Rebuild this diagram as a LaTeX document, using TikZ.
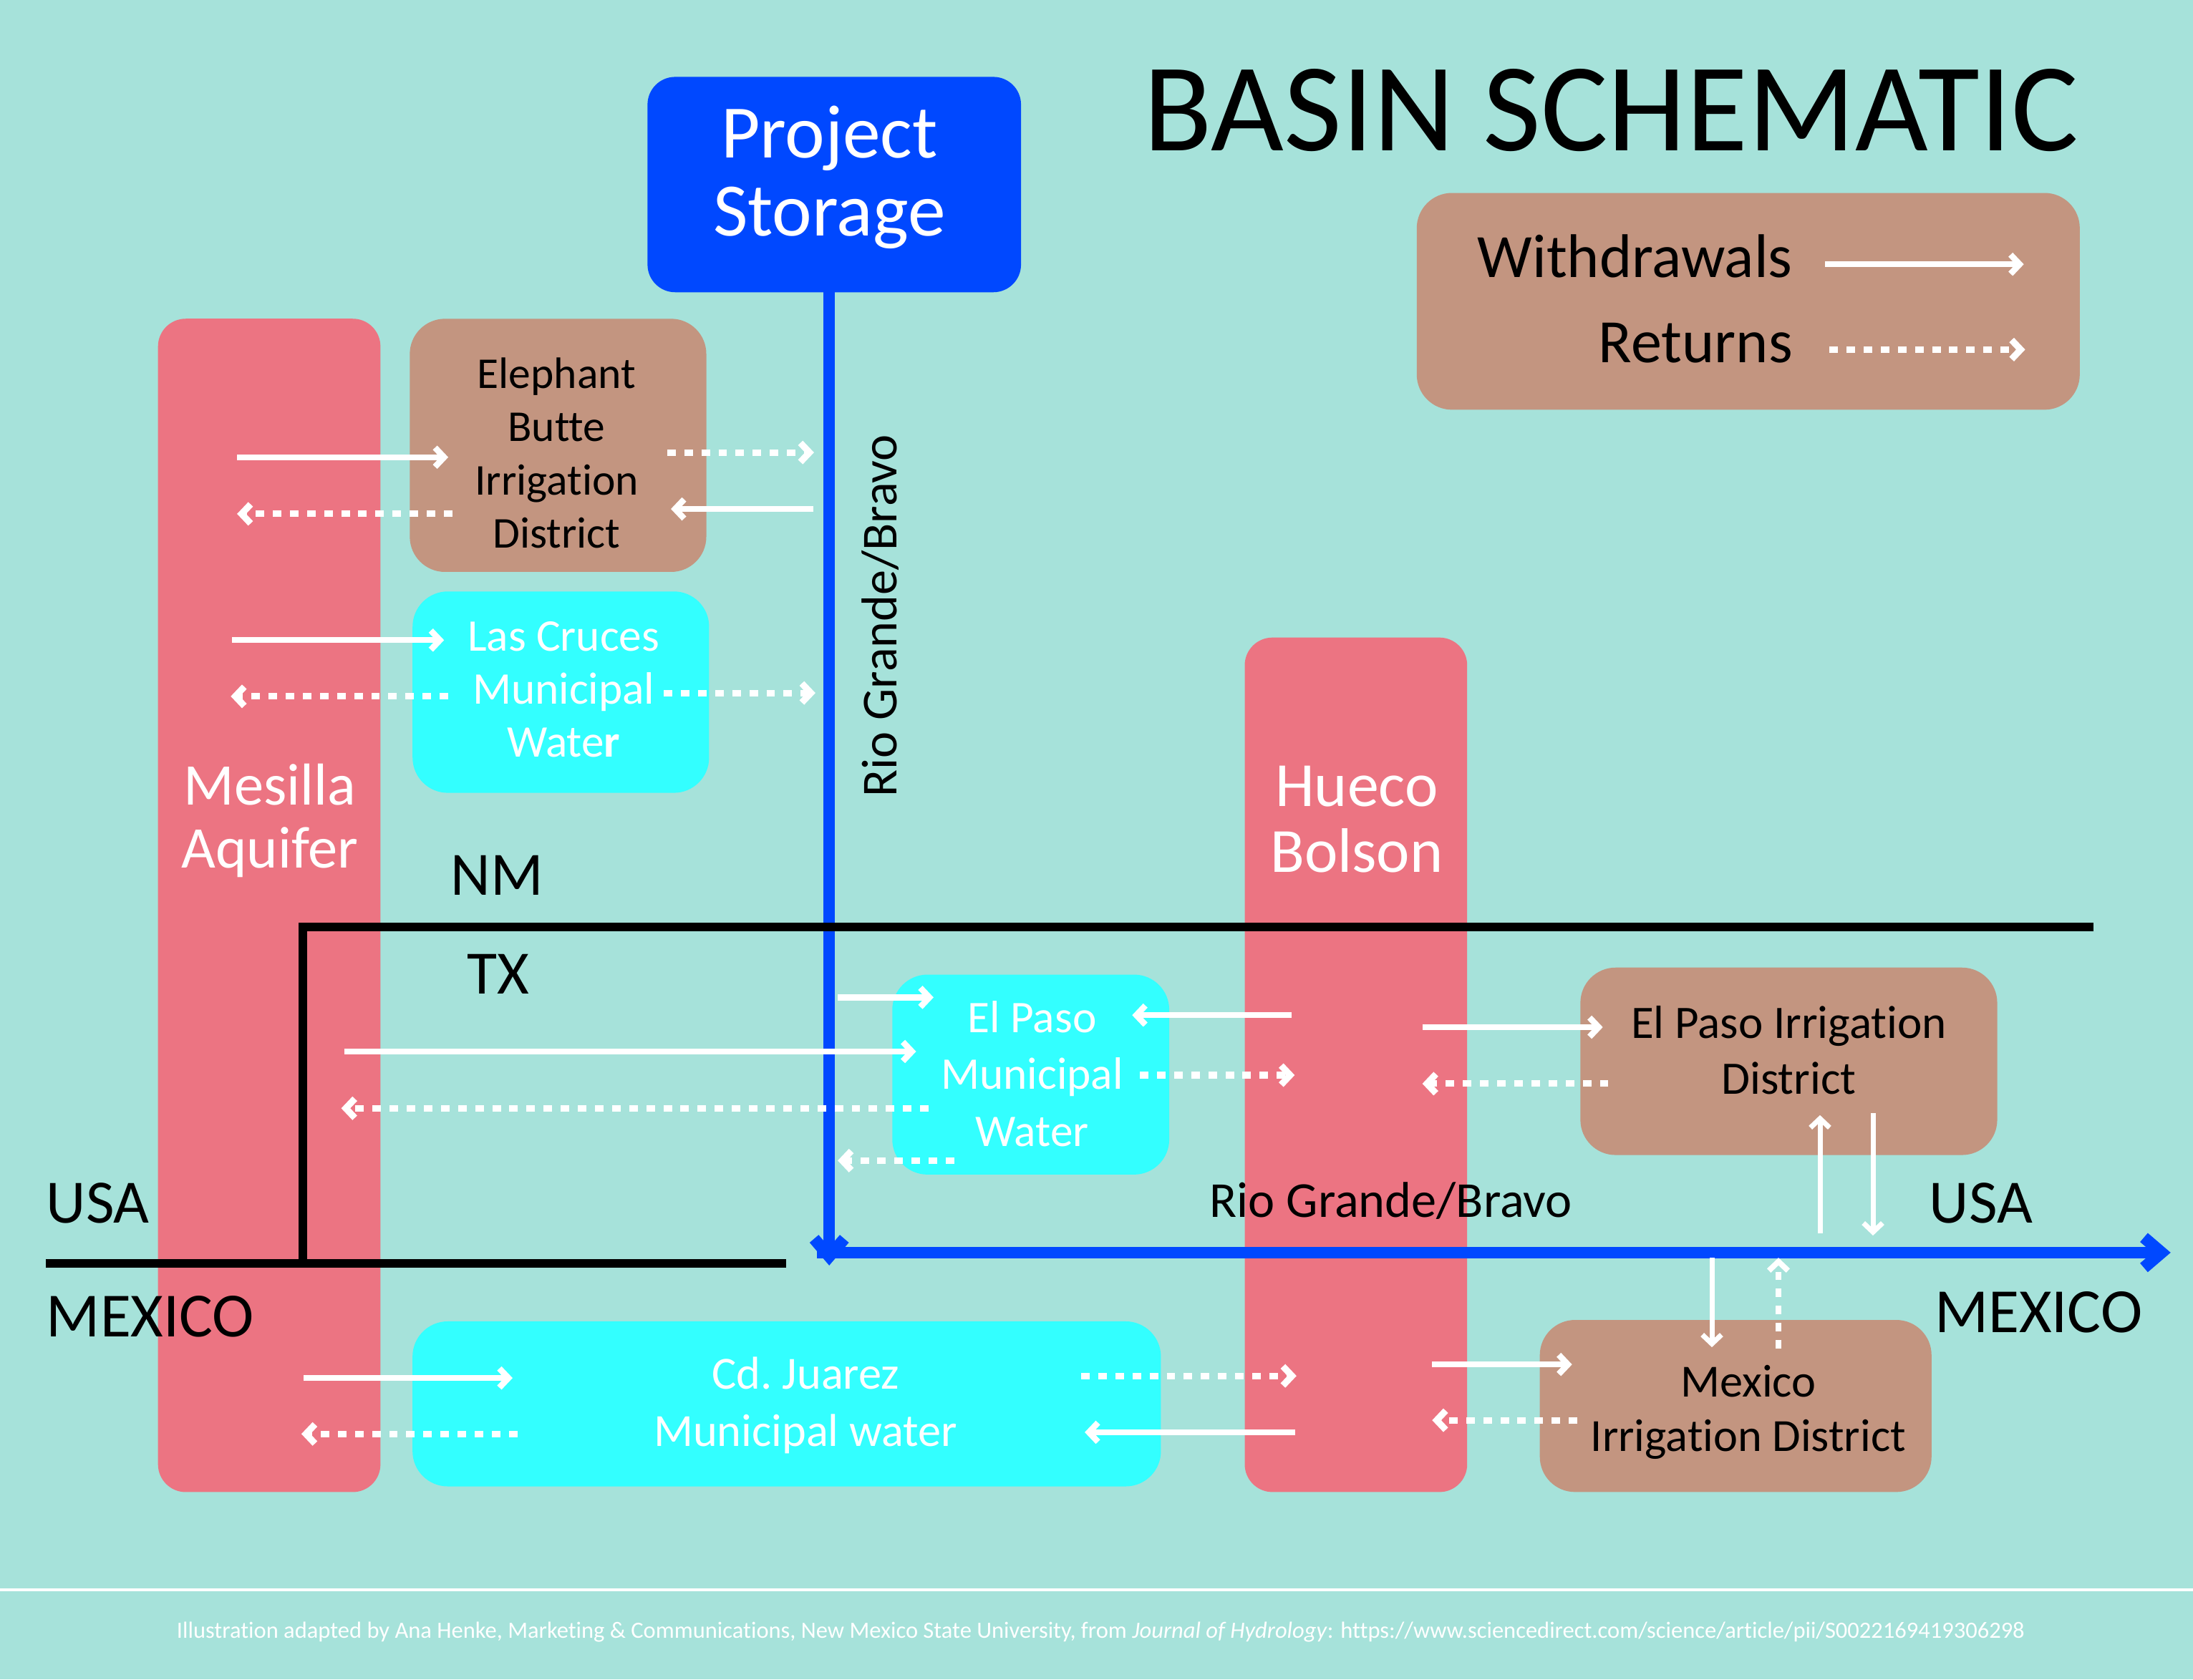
\documentclass[tikz,border=0pt]{standalone}
\usepackage{fontspec}
\setmainfont{Carlito}[Ligatures=NoCommon]
\usetikzlibrary{arrows.meta}
\definecolor{bgc}{RGB}{166,226,218}
\definecolor{pinkc}{RGB}{236,116,130}
\definecolor{brownc}{RGB}{195,149,128}
\definecolor{cyanc}{RGB}{51,255,255}
\definecolor{bluec}{RGB}{0,72,255}
\tikzset{
  boxbase/.style={draw=none, inner sep=0pt, outer sep=0pt, rectangle},
  pillar/.style={boxbase, fill=pinkc, rounded corners=11pt},
  brownbox/.style={boxbase, fill=brownc, rounded corners=14pt},
  cyanbox/.style={boxbase, fill=cyanc, rounded corners=14pt},
  storebox/.style={boxbase, fill=bluec, rounded corners=11pt},
  wtxt/.style={text=white, align=center, inner sep=0pt},
  btxt/.style={text=black, align=center, inner sep=0pt},
  wd/.style={draw=white, line width=2.4pt, -{Straight Barb[length=3.6pt,width=7.6pt]}},
  rt/.style={wd, line width=2.6pt, dash pattern=on 3.4pt off 3.4pt},
  river/.style={draw=bluec, line width=4.7pt, -{Straight Barb[length=7pt,width=12pt]}},
  border/.style={draw=black, line width=3.5pt},
}
\begin{document}
\begin{tikzpicture}[x=0.019534cm, y=-0.019534cm]
\path[fill=bgc, use as bounding box] (0,0) rectangle (1568,1201);

% title
\node[btxt, anchor=base, font=\fontsize{50}{52}\selectfont] (title) at (1152,108) {BASIN SCHEMATIC};

% legend
\node[brownbox, minimum width=9.259cm, minimum height=3.028cm] (legend) at (1250,215.5) {};
\node[btxt, anchor=base east, font=\fontsize{24.5}{26}\selectfont] (lgw) at (1282,198.6) {Withdrawals};
\node[btxt, anchor=base east, font=\fontsize{24.5}{26}\selectfont] (lgr) at (1282,259.5) {Returns};

% pillars and boxes
\node[pillar, minimum width=3.106cm, minimum height=16.389cm] (mesilla) at (192.5,647.5) {};
\node[pillar, minimum width=3.106cm, minimum height=11.935cm] (hueco) at (969.5,761.5) {};
\node[brownbox, minimum width=4.141cm, minimum height=3.536cm] (ebid) at (399,318.5) {};
\node[cyanbox, minimum width=4.141cm, minimum height=2.813cm] (lcmw) at (401,495) {};
\node[cyanbox, minimum width=3.868cm, minimum height=2.793cm] (epmw) at (737,768.5) {};
\node[brownbox, minimum width=5.821cm, minimum height=2.618cm] (epid) at (1279,759) {};
\node[brownbox, minimum width=5.470cm, minimum height=2.403cm] (mxid) at (1241,1005.5) {};
\node[cyanbox, minimum width=10.451cm, minimum height=2.305cm] (cdj) at (562.5,1004) {};
\node[storebox, minimum width=5.216cm, minimum height=3.008cm] (store) at (596.5,132) {};

% box texts
\node[wtxt, font=\fontsize{30}{31}\selectfont] (storet) at (593,127) {Project\\Storage};
\node[wtxt, font=\fontsize{23.5}{25}\selectfont] (mesillat) at (193,587) {Mesilla\\Aquifer};
\node[wtxt, font=\fontsize{25}{26}\selectfont] (huecot) at (970,586) {Hueco\\Bolson};
\node[btxt, font=\fontsize{17.5}{21.2}\selectfont] (ebidt) at (398,324) {Elephant\\Butte\\Irrigation\\District};
\node[wtxt, font=\fontsize{18}{21}\selectfont] (lcmwt) at (403,493) {Las Cruces\\Municipal\\Wate\textbf{r}};
\node[wtxt, font=\fontsize{18}{22.7}\selectfont] (epmwt) at (738,768) {El Paso\\Municipal\\Water};
\node[btxt, font=\fontsize{18.5}{22}\selectfont] (epidt) at (1279,751) {El Paso Irrigation\\District};
\node[btxt, font=\fontsize{18.3}{21.6}\selectfont] (mxidt) at (1250,1010) {Mexico\\Irrigation District};
\node[wtxt, font=\fontsize{18.3}{22.7}\selectfont] (cdjt) at (576,1005) {Cd.\ Juarez\\Municipal water};

% river
\draw[river] (store.south -| 592.9,0) coordinate (rv0) -- (592.9,905) coordinate (rv1);
\draw[river] (584,895.8) coordinate (rh0) -- (1552,895.8) coordinate (rh1);

% borders
\draw[border, line join=miter] (1497,662.8) coordinate (b0) -- (216.5,662.8) coordinate (b1) -- (216.5,903.5) coordinate (b2);
\draw[border] (33,903.5) coordinate (b3) -- (562,903.5) coordinate (b4);

% region labels
\node[btxt, anchor=base, font=\fontsize{24.5}{26}\selectfont] (nm) at (355.4,640) {NM};
\node[btxt, anchor=base, font=\fontsize{24.5}{26}\selectfont] (tx) at (356.4,710.6) {TX};
\node[btxt, anchor=base, font=\fontsize{24.5}{26}\selectfont] (usal) at (70,874.5) {USA};
\node[btxt, anchor=base, font=\fontsize{25}{26}\selectfont] (mexl) at (107.5,956) {MEXICO};
\node[btxt, anchor=base, font=\fontsize{24.5}{26}\selectfont] (usar) at (1416.4,874.5) {USA};
\node[btxt, anchor=base, font=\fontsize{25}{26}\selectfont] (mexr) at (1457.5,952.7) {MEXICO};
\node[btxt, anchor=base, font=\fontsize{20}{22}\selectfont] (rioh) at (994.5,870.4) {Rio Grande/Bravo};
\node[btxt, anchor=base, rotate=90, font=\fontsize{20}{22}\selectfont] (riov) at (641,440.5) {Rio Grande/Bravo};

% legend arrows
\draw[wd] (1305,189) coordinate (lw0) -- (1447,189) coordinate (lw1);
\draw[rt] (1308,250) coordinate (lr0) -- (1448,250) coordinate (lr1);

% withdrawals
\draw[wd] (169.5,327) coordinate (w1a) -- (320.5,327) coordinate (w1b);
\draw[wd] (581.5,364) coordinate (w2a) -- (479.7,364) coordinate (w2b);
\draw[wd] (166,457.8) coordinate (w3a) -- (317.5,457.8) coordinate (w3b);
\draw[wd] (599,713.3) coordinate (w4a) -- (667.5,713.3) coordinate (w4b);
\draw[wd] (246,752) coordinate (w5a) -- (655,752) coordinate (w5b);
\draw[wd] (923.5,726) coordinate (w6a) -- (809.5,726) coordinate (w6b);
\draw[wd] (1017,734.6) coordinate (w7a) -- (1146,734.6) coordinate (w7b);
\draw[wd, line width=2pt] (1301.3,882) coordinate (w8a) -- (1301.3,797.5) coordinate (w8b);
\draw[wd, line width=2pt] (1339.2,796) coordinate (w9a) -- (1339.2,883.6) coordinate (w9b);
\draw[wd, line width=2pt] (1224,899.5) coordinate (w10a) -- (1224,963.5) coordinate (w10b);
\draw[wd] (217,985.5) coordinate (w11a) -- (366.5,985.5) coordinate (w11b);
\draw[wd] (926,1024.3) coordinate (w12a) -- (775.6,1024.3) coordinate (w12b);
\draw[wd] (1024,975.8) coordinate (w13a) -- (1124,975.8) coordinate (w13b);

% returns
\draw[rt] (477,323.6) coordinate (r1a) -- (582,323.6) coordinate (r1b);
\draw[rt] (323.5,367.5) coordinate (r2a) -- (169.5,367.5) coordinate (r2b);
\draw[rt] (320.5,498) coordinate (r3a) -- (165,498) coordinate (r3b);
\draw[rt] (474.6,495.6) coordinate (r4a) -- (583,495.6) coordinate (r4b);
\draw[rt] (664,792.6) coordinate (r5a) -- (244,792.6) coordinate (r5b);
\draw[rt] (682.4,830) coordinate (r6a) -- (599,830) coordinate (r6b);
\draw[rt] (815,768.9) coordinate (r7a) -- (925.7,768.9) coordinate (r7b);
\draw[rt] (1150,775) coordinate (r8a) -- (1017,775) coordinate (r8b);
\draw[rt] (773,984) coordinate (r9a) -- (927,984) coordinate (r9b);
\draw[rt] (370,1025.5) coordinate (r10a) -- (215.5,1025.5) coordinate (r10b);
\draw[rt] (1127.8,1015.7) coordinate (r11a) -- (1024,1015.7) coordinate (r11b);
\draw[rt, line width=2.2pt] (1271.6,964.5) coordinate (r12a) -- (1271.6,899.5) coordinate (r12b);

% footer
\draw[white, line width=1.2pt] (0,1137) coordinate (f0) -- (1568,1137) coordinate (f1);
\node[wtxt, font=\fontsize{9.25}{11}\selectfont] (foot) at (787,1167) {Illustration adapted by Ana Henke, Marketing \& Communications, New Mexico State University, from \textit{Journal of Hydrology}: https://www.sciencedirect.com/science/article/pii/S0022169419306298};
\end{tikzpicture}
\end{document}
